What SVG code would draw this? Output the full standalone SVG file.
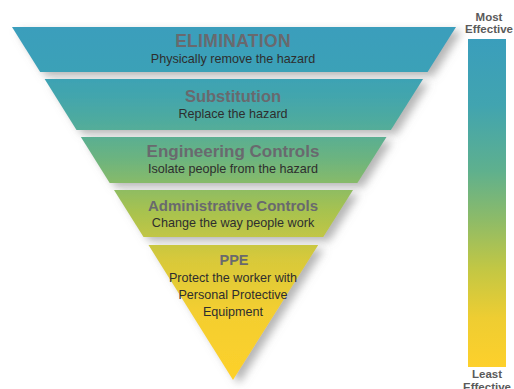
<svg xmlns="http://www.w3.org/2000/svg" width="514" height="389" viewBox="0 0 514 389">
<defs>
<linearGradient id="g" gradientUnits="userSpaceOnUse" x1="0" y1="27" x2="0" y2="380">
<stop offset="0" stop-color="#3a9ebc"/>
<stop offset="0.127" stop-color="#3ba1b7"/>
<stop offset="0.207" stop-color="#44a6ab"/>
<stop offset="0.292" stop-color="#54ad98"/>
<stop offset="0.377" stop-color="#6db47e"/>
<stop offset="0.518" stop-color="#a6c250"/>
<stop offset="0.66" stop-color="#d8c93a"/>
<stop offset="0.802" stop-color="#f3ce30"/>
<stop offset="1" stop-color="#fdd12b"/>
</linearGradient>
<linearGradient id="gb" x1="0" y1="0" x2="0" y2="1">
<stop offset="0" stop-color="#3a9ebc"/>
<stop offset="0.2" stop-color="#41a4b0"/>
<stop offset="0.4" stop-color="#5eb08e"/>
<stop offset="0.55" stop-color="#8dbb68"/>
<stop offset="0.7" stop-color="#c2c744"/>
<stop offset="0.85" stop-color="#eecd32"/>
<stop offset="1" stop-color="#fdd02b"/>
</linearGradient>
<filter id="sh" x="-10%" y="-10%" width="130%" height="140%">
<feDropShadow dx="6" dy="4" stdDeviation="4" flood-color="#7a7a7a" flood-opacity="0.55"/>
</filter>
<style>
.band{fill:url(#g);filter:url(#sh)}
.t{font-family:"Liberation Sans",Arial,sans-serif;font-size:17px;font-weight:bold;fill:#69696e;text-anchor:middle}
.s{font-family:"Liberation Sans",Arial,sans-serif;font-size:12.6px;fill:#2e2e2e;text-anchor:middle}
.lab{font-family:"Liberation Sans",Arial,sans-serif;font-size:11.5px;font-weight:bold;fill:#5a5a5a;text-anchor:middle}
</style>
</defs>
<g id="elimination">
<polygon class="band" points="12,27 456,27 427.6,72 40.2,72"/>
<text class="t" x="233" y="47" style="font-size:17.5px;letter-spacing:0.3px">ELIMINATION</text>
<text class="s" x="233" y="63">Physically remove the hazard</text>
</g>
<g id="substitution">
<polygon class="band" points="44.6,79 423.1,79 390.9,130 76.5,130"/>
<text class="t" x="233" y="102" style="font-size:16.5px">Substitution</text>
<text class="s" x="233" y="118">Replace the hazard</text>
</g>
<g id="engineering">
<polygon class="band" points="80.9,137 386.5,137 357.4,183 109.7,183"/>
<text class="t" x="233" y="157">Engineering Controls</text>
<text class="s" x="233" y="173">Isolate people from the hazard</text>
</g>
<g id="administrative">
<polygon class="band" points="114,190 353,190 323.3,237 143.5,237"/>
<text class="t" x="233" y="211" style="font-size:15px">Administrative Controls</text>
<text class="s" x="233" y="227">Change the way people work</text>
</g>
<g id="ppe">
<polygon class="band" points="148.5,245 318.2,245 233,380"/>
<text class="t" x="234" y="265" style="font-size:14.5px">PPE</text>
<text class="s" x="233" y="282">Protect the worker with</text>
<text class="s" x="233" y="299">Personal Protective</text>
<text class="s" x="233" y="316">Equipment</text>
</g>
<g id="scale">
<rect x="468" y="39" width="38" height="328" fill="url(#gb)"/>
<text class="lab" x="489" y="21">Most</text>
<text class="lab" x="489" y="33">Effective</text>
<text class="lab" x="487" y="377.5">Least</text>
<text class="lab" x="487" y="390.5">Effective</text>
</g>
</svg>
